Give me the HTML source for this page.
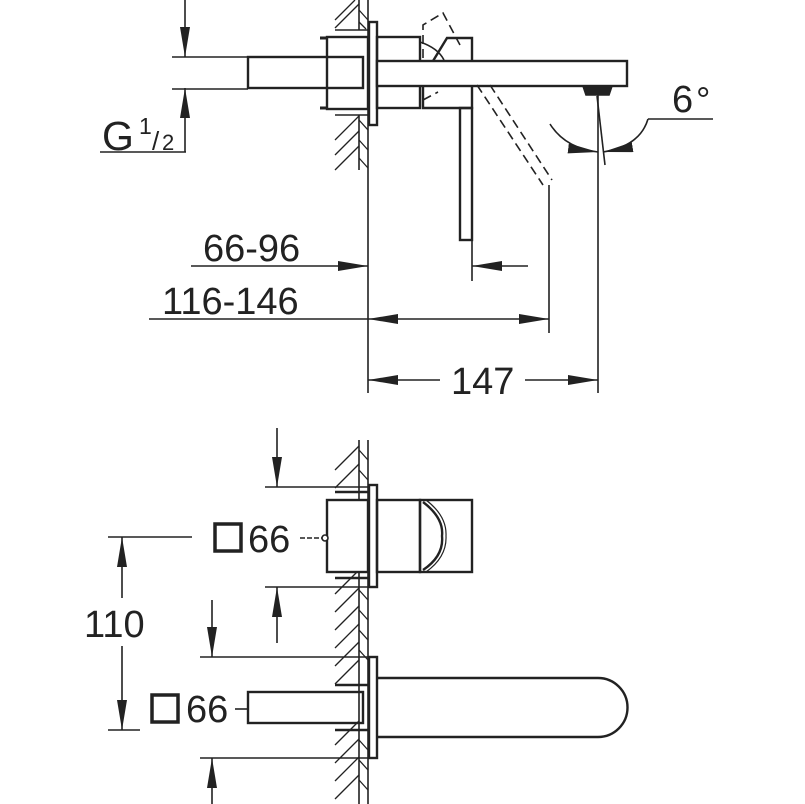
<!DOCTYPE html>
<html><head><meta charset="utf-8"><style>
html,body{margin:0;padding:0;background:#fff;}
svg{display:block;}
text{font-family:"Liberation Sans",sans-serif;fill:#222;}
</style></head><body>
<svg width="805" height="804" viewBox="0 0 805 804" xmlns="http://www.w3.org/2000/svg">
<defs>
<marker id="a" viewBox="0 0 30 10" refX="30" refY="5" markerWidth="30" markerHeight="10" markerUnits="userSpaceOnUse" orient="auto"><path d="M0,0 L30,5 L0,10 z" fill="#222"/></marker>
</defs>
<g stroke="#222" fill="none" stroke-width="1.6">
<line x1="368" y1="0" x2="368" y2="393"/>
<line x1="359" y1="0" x2="359" y2="30"/>
<line x1="359" y1="115" x2="359" y2="170"/>
<g stroke-width="1.3">
<line x1="335" y1="20" x2="355" y2="0"/>
<line x1="335" y1="28" x2="359" y2="4"/>
<line x1="359" y1="10" x2="368" y2="20"/>
<line x1="359" y1="22" x2="366" y2="29"/>
<line x1="335" y1="140" x2="359" y2="116"/>
<line x1="335" y1="155" x2="359" y2="131"/>
<line x1="335" y1="170" x2="359" y2="146"/>
<line x1="359" y1="120" x2="368" y2="130"/>
<line x1="359" y1="140" x2="368" y2="150"/>
<line x1="359" y1="158" x2="368" y2="168"/>
</g>
<line x1="335" y1="30" x2="368" y2="30"/>
<line x1="335" y1="115" x2="368" y2="115"/>
<g stroke-width="2.4">
<rect x="369" y="22" width="8" height="103"/>
<rect x="327" y="37" width="41" height="72"/>
<rect x="248" y="57" width="115" height="31"/>
<rect x="377" y="37" width="43" height="71"/>
<rect x="377" y="61" width="250" height="25" fill="#fff"/>
<path d="M433,61 L447,38 L472,38 L472,61"/>
<path d="M423,86 L423,108 L472,108 L472,86"/>
<rect x="460" y="108" width="12" height="132"/>
</g>
<line x1="320" y1="38" x2="327" y2="38" stroke-width="3"/>
<line x1="320" y1="108" x2="327" y2="108" stroke-width="3"/>
<path d="M583,86 L612,86 L609,95 L586,95 z" fill="#222"/>
<g stroke-dasharray="9,5">
<path d="M423,58 L423,25 L443,13 L460,45"/>
<path d="M423,86 L423,100 L438,92"/>
<line x1="477" y1="85" x2="543" y2="185"/>
<line x1="490" y1="85" x2="552" y2="180"/>
</g>
<path d="M420,42 Q438,48 444,60" />
<line x1="185" y1="0" x2="185" y2="57" marker-end="url(#a)"/>
<line x1="185" y1="152" x2="185" y2="88" marker-end="url(#a)"/>
<line x1="172" y1="57" x2="248" y2="57"/>
<line x1="172" y1="89" x2="248" y2="89"/>
<line x1="100" y1="152" x2="186" y2="152"/>
<line x1="598" y1="95" x2="598" y2="393"/>
<line x1="597" y1="96" x2="605" y2="165"/>
<path d="M550,124 Q565,148 598,152" marker-end="url(#a)"/>
<path d="M648,119 Q640,146 603,152" marker-end="url(#a)"/>
<line x1="648" y1="119" x2="713" y2="119"/>
<line x1="191" y1="266" x2="368" y2="266" marker-end="url(#a)"/>
<line x1="528" y1="266" x2="472" y2="266" marker-end="url(#a)"/>
<line x1="472" y1="240" x2="472" y2="281"/>
<line x1="149" y1="319" x2="368" y2="319"/>
<line x1="460" y1="319" x2="368" y2="319" marker-end="url(#a)"/>
<line x1="460" y1="319" x2="549" y2="319" marker-end="url(#a)"/>
<line x1="549" y1="185" x2="549" y2="333"/>
<line x1="440" y1="380" x2="368" y2="380" marker-end="url(#a)"/>
<line x1="525" y1="380" x2="598" y2="380" marker-end="url(#a)"/>

<line x1="368" y1="440" x2="368" y2="804"/>
<line x1="359" y1="440" x2="359" y2="804"/>
<g stroke-width="1.3">
<line x1="335" y1="470" x2="359" y2="446"/>
<line x1="335" y1="488" x2="359" y2="464"/>
<line x1="335" y1="594" x2="359" y2="570"/>
<line x1="335" y1="612" x2="359" y2="588"/>
<line x1="335" y1="630" x2="359" y2="606"/>
<line x1="335" y1="648" x2="359" y2="624"/>
<line x1="335" y1="666" x2="359" y2="642"/>
<line x1="335" y1="684" x2="359" y2="660"/>
<line x1="335" y1="745" x2="359" y2="721"/>
<line x1="335" y1="763" x2="359" y2="739"/>
<line x1="335" y1="781" x2="359" y2="757"/>
<line x1="335" y1="799" x2="359" y2="775"/>
<line x1="359" y1="450" x2="368" y2="460"/>
<line x1="359" y1="470" x2="368" y2="480"/>
<line x1="359" y1="590" x2="368" y2="600"/>
<line x1="359" y1="610" x2="368" y2="620"/>
<line x1="359" y1="630" x2="368" y2="640"/>
<line x1="359" y1="650" x2="368" y2="660"/>
<line x1="359" y1="740" x2="368" y2="750"/>
<line x1="359" y1="760" x2="368" y2="770"/>
<line x1="359" y1="780" x2="368" y2="790"/>
</g>
<g stroke-width="2.4">
<rect x="369" y="485" width="8" height="102" fill="#fff"/>
<rect x="327" y="500" width="41" height="72" fill="#fff"/>
<line x1="335" y1="492" x2="368" y2="492"/>
<line x1="335" y1="578" x2="368" y2="578"/>
<rect x="377" y="500" width="43" height="72"/>
<rect x="420" y="500" width="52" height="72"/>
<path d="M423,502 Q444,518 442,536 Q444,556 423,570"/>
<rect x="369" y="657" width="8" height="101" fill="#fff"/>
<line x1="335" y1="685" x2="368" y2="685"/>
<line x1="335" y1="730" x2="368" y2="730"/>
<rect x="248" y="692" width="115" height="31"/>
<path d="M377,678 L598,678 A29.5,29.5 0 0 1 598,737 L377,737"/>
</g>
<path d="M426,500 Q447,516 446,536 Q447,557 426,572" stroke-width="1.2"/>
<line x1="277" y1="428" x2="277" y2="487" marker-end="url(#a)"/>
<line x1="265" y1="487" x2="368" y2="487"/>
<line x1="265" y1="587" x2="368" y2="587"/>
<line x1="277" y1="643" x2="277" y2="587" marker-end="url(#a)"/>
<line x1="212" y1="600" x2="212" y2="657" marker-end="url(#a)"/>
<line x1="200" y1="657" x2="368" y2="657"/>
<line x1="200" y1="758" x2="368" y2="758"/>
<line x1="212" y1="804" x2="212" y2="758" marker-end="url(#a)"/>
<line x1="108" y1="537" x2="192" y2="537"/>
<line x1="108" y1="730" x2="140" y2="730"/>
<line x1="122" y1="598" x2="122" y2="537" marker-end="url(#a)"/>
<line x1="122" y1="646" x2="122" y2="730" marker-end="url(#a)"/>
<rect x="215" y="524" width="26" height="27" stroke-width="3.5"/>
<rect x="152" y="695" width="26" height="27" stroke-width="3.5"/>
<line x1="300" y1="538" x2="322" y2="538" stroke-dasharray="5,2"/>
<circle cx="325" cy="538" r="3" fill="#fff"/>
<line x1="235" y1="709" x2="248" y2="709"/>
</g>
<g font-size="38">
<text x="102" y="150" font-size="41">G</text>
<text x="139" y="134" font-size="23">1</text>
<text x="152" y="150" font-size="26">/</text>
<text x="162" y="150" font-size="22">2</text>
<text x="203" y="261">66-96</text>
<text x="162" y="314">116-146</text>
<text x="451" y="394">147</text>
<text x="672" y="112">6</text>
<text x="696" y="112" font-size="36">°</text>
<text x="248" y="552">66</text>
<text x="186" y="722">66</text>
<text x="84" y="637">110</text>
</g>
</svg>
</body></html>
